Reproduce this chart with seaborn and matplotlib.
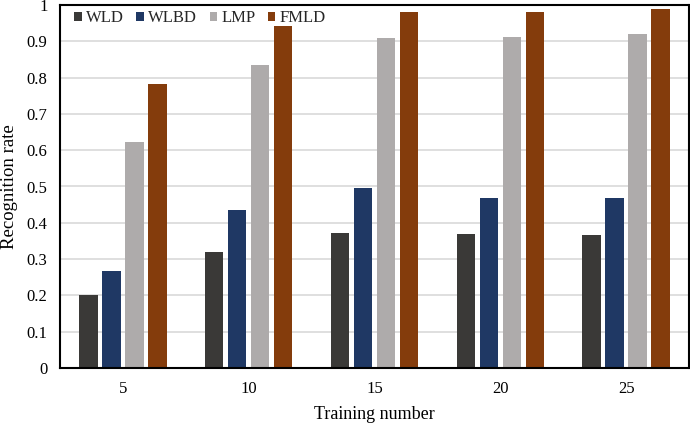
import matplotlib
matplotlib.use("Agg")
import matplotlib.pyplot as plt
import seaborn as sns
import pandas as pd

training = ["5", "10", "15", "20", "25"]
methods = ["WLD", "WLBD", "LMP", "FMLD"]
wld = [0.200, 0.319, 0.372, 0.368, 0.366]
wlbd = [0.267, 0.434, 0.497, 0.467, 0.468]
lmp = [0.622, 0.836, 0.910, 0.911, 0.919]
fmld = [0.783, 0.941, 0.981, 0.982, 0.988]
colors = ["#3a3937", "#1f3864", "#aeabab", "#843c0c"]

rows = []
for m, vals in zip(methods, [wld, wlbd, lmp, fmld]):
    for t, v in zip(training, vals):
        rows.append({"Training number": t, "Method": m, "Recognition rate": v})
df = pd.DataFrame(rows)

sns.set_theme(style="white")
plt.rcParams["font.family"] = ["Liberation Serif", "DejaVu Serif"]

fig = plt.figure(figsize=(6.9, 4.23), dpi=100)
ax = fig.add_axes([60/690, 1-368/423, 629/690, 363/423])
sns.barplot(data=df, x="Training number", y="Recognition rate", hue="Method",
            hue_order=methods, order=training, palette=colors, width=0.73,
            gap=0.2, saturation=1, ax=ax, errorbar=None, edgecolor="none")

ax.set_ylim(0, 1)
ax.set_xlim(-0.5, 4.5)
ax.set_yticks([i/10 for i in range(11)])
ax.set_yticklabels(["0", "0.1", "0.2", "0.3", "0.4", "0.5", "0.6", "0.7", "0.8", "0.9", "1"])
ax.yaxis.grid(True, color="#d9d9d9", linewidth=1.2)
ax.set_axisbelow(True)
for s in ax.spines.values():
    s.set_color("black")
    s.set_linewidth(1.5)
ax.tick_params(axis="both", labelsize=12, length=0, pad=9, colors="black")
ax.set_xlabel("Training number", fontsize=13, color="black")
ax.set_ylabel("Recognition rate", fontsize=13.5, color="black")
ax.xaxis.label.set_verticalalignment("center")
ax.yaxis.label.set_verticalalignment("center")
ax.xaxis.set_label_coords(0.5, -0.127)
ax.yaxis.set_label_coords(-0.081, 0.5)

leg = ax.legend(loc="upper left", ncol=4, frameon=False, fontsize=12,
                handlelength=0.45, handleheight=0.45, handletextpad=0.25,
                columnspacing=0.75, borderaxespad=0.0, borderpad=0.3,
                bbox_to_anchor=(0.015, 1.0))

fig.savefig("out.png", dpi=100)
